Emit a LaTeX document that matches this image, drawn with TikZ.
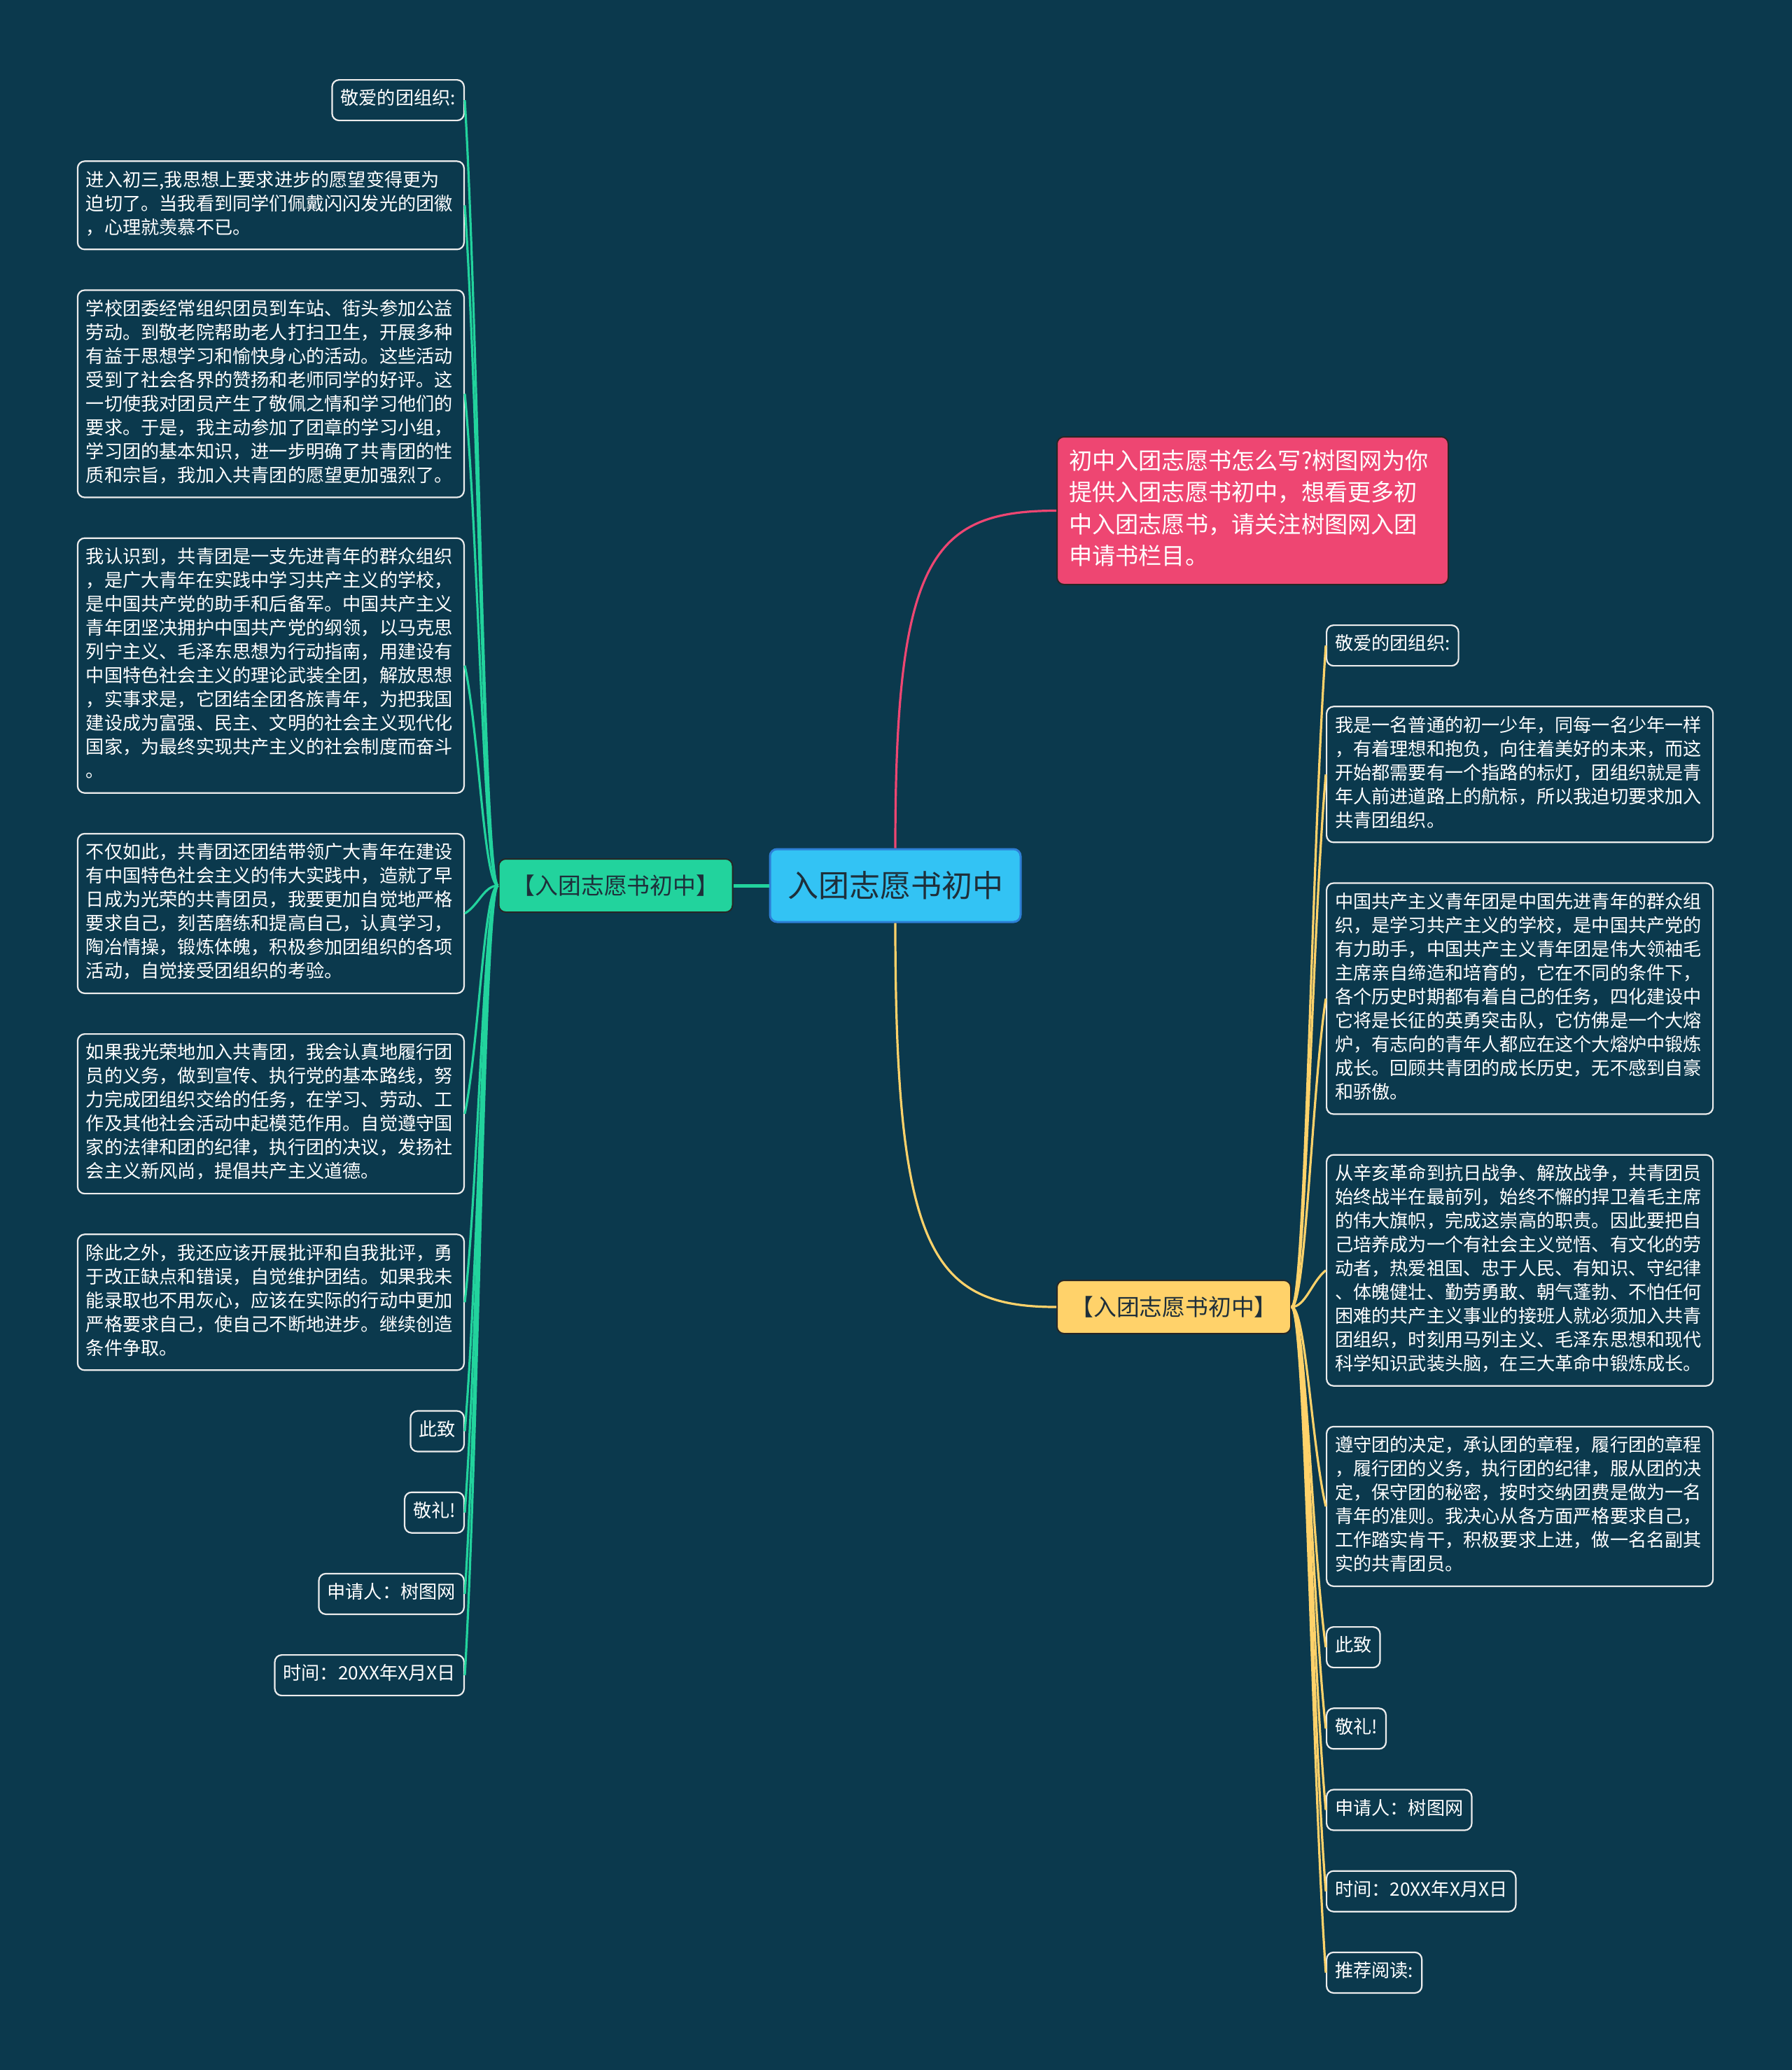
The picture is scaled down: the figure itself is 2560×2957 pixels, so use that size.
\documentclass[tikz,border=0pt]{standalone}
\usepackage{fontspec}
\setmainfont{Noto Sans CJK SC}
\usetikzlibrary{positioning,calc}
\definecolor{bgblue}{HTML}{0B394D}
\definecolor{rootfill}{HTML}{33C3F4}
\definecolor{rootline}{HTML}{2D7FD6}
\definecolor{gcol}{HTML}{22D39D}
\definecolor{ycol}{HTML}{FFD26A}
\definecolor{pkcol}{HTML}{EE4672}
\definecolor{darktext}{HTML}{1E2F3A}
\definecolor{leafline}{HTML}{ECECEC}
\tikzset{
  leaf/.style={draw=leafline,line width=1.1pt,rounded corners=5pt,text=white,
               font=\fontsize{13.1pt}{17pt}\selectfont,inner xsep=6pt,inner ysep=6pt,
               execute at begin node=\strut,execute at end node=\strut},
  leafbox/.style={leaf,text width=264pt,align=left},
  root/.style={draw=rootline,line width=1.5pt,fill=rootfill,rounded corners=5pt,
               text=darktext,font=\fontsize{22pt}{26pt}\selectfont,
               minimum width=179pt,minimum height=52pt},
  branch/.style={draw=black!85,line width=1pt,rounded corners=5pt,text=darktext,
               font=\fontsize{16.4pt}{20pt}\selectfont,
               minimum width=167pt,minimum height=38pt},
  note/.style={draw=black!85,line width=1pt,fill=pkcol,rounded corners=5pt,text=white,
               font=\fontsize{16.6pt}{22.6pt}\selectfont,text width=262.5pt,align=left,
               inner xsep=8.5pt,inner ysep=7.55pt,
               execute at begin node=\strut,execute at end node=\strut},
  gline/.style={gcol,line width=1.6pt},
  yline/.style={ycol,line width=1.6pt},
  twigL/.style={to path={let \p1=(\tikztostart),\p2=(\tikztotarget) in
               .. controls +(-10pt,0pt) and +(10pt,{0.3*(\y1-\y2)}) .. (\tikztotarget)}},
  twigR/.style={to path={let \p1=(\tikztostart),\p2=(\tikztotarget) in
               .. controls +(10pt,0pt) and +(-10pt,{0.3*(\y1-\y2)}) .. (\tikztotarget)}},
}

\begin{document}
\begin{tikzpicture}[x=0.5pt,y=-0.5pt]
  \fill[bgblue] (0,0) rectangle (2560,2957);

  \node[root] (c0) at (1279,1265) {入团志愿书初中};
  \node[branch,fill=gcol,left=25.5pt of c0] (bl) {【入团志愿书初中】};
  \node[branch,fill=ycol,anchor=west] (br) at (1509,1867) {【入团志愿书初中】};
  \node[note,anchor=north west] (pk) at (1509,623)
       {初中入团志愿书怎么写?树图网为你\\提供入团志愿书初中，想看更多初\\中入团志愿书，请关注树图网入团\\申请书栏目。};

  % left side
  \node[leaf,anchor=north east] (l1) at (664,113) {敬爱的团组织:};
  \node[leafbox,below=28pt of l1.south east,anchor=north east] (l2)
       {进入初三,我思想上要求进步的愿望变得更为\\迫切了。当我看到同学们佩戴闪闪发光的团徽\\，心理就羡慕不已。};
  \node[leafbox,below=28pt of l2.south east,anchor=north east] (l3)
       {学校团委经常组织团员到车站、街头参加公益\\劳动。到敬老院帮助老人打扫卫生，开展多种\\有益于思想学习和愉快身心的活动。这些活动\\受到了社会各界的赞扬和老师同学的好评。这\\一切使我对团员产生了敬佩之情和学习他们的\\要求。于是，我主动参加了团章的学习小组，\\学习团的基本知识，进一步明确了共青团的性\\质和宗旨，我加入共青团的愿望更加强烈了。};
  \node[leafbox,below=28pt of l3.south east,anchor=north east] (l4)
       {我认识到，共青团是一支先进青年的群众组织\\，是广大青年在实践中学习共产主义的学校，\\是中国共产党的助手和后备军。中国共产主义\\青年团坚决拥护中国共产党的纲领，以马克思\\列宁主义、毛泽东思想为行动指南，用建设有\\中国特色社会主义的理论武装全团，解放思想\\，实事求是，它团结全团各族青年，为把我国\\建设成为富强、民主、文明的社会主义现代化\\国家，为最终实现共产主义的社会制度而奋斗\\。};
  \node[leafbox,below=28pt of l4.south east,anchor=north east] (l5)
       {不仅如此，共青团还团结带领广大青年在建设\\有中国特色社会主义的伟大实践中，造就了早\\日成为光荣的共青团员，我要更加自觉地严格\\要求自己，刻苦磨练和提高自己，认真学习，\\陶冶情操，锻炼体魄，积极参加团组织的各项\\活动，自觉接受团组织的考验。};
  \node[leafbox,below=28pt of l5.south east,anchor=north east] (l6)
       {如果我光荣地加入共青团，我会认真地履行团\\员的义务，做到宣传、执行党的基本路线，努\\力完成团组织交给的任务，在学习、劳动、工\\作及其他社会活动中起模范作用。自觉遵守国\\家的法律和团的纪律，执行团的决议，发扬社\\会主义新风尚，提倡共产主义道德。};
  \node[leafbox,below=28pt of l6.south east,anchor=north east] (l7)
       {除此之外，我还应该开展批评和自我批评，勇\\于改正缺点和错误，自觉维护团结。如果我未\\能录取也不用灰心，应该在实际的行动中更加\\严格要求自己，使自己不断地进步。继续创造\\条件争取。};
  \node[leaf,below=28pt of l7.south east,anchor=north east] (l8) {此致};
  \node[leaf,below=28pt of l8.south east,anchor=north east] (l9) {敬礼!};
  \node[leaf,below=28pt of l9.south east,anchor=north east] (l10) {申请人：树图网};
  \node[leaf,below=28pt of l10.south east,anchor=north east] (l11) {时间：20XX年X月X日};

  % right side
  \node[leaf,anchor=north west] (r1) at (1894,892) {敬爱的团组织:};
  \node[leafbox,below=28pt of r1.south west,anchor=north west] (r2)
       {我是一名普通的初一少年，同每一名少年一样\\，有着理想和抱负，向往着美好的未来，而这\\开始都需要有一个指路的标灯，团组织就是青\\年人前进道路上的航标，所以我迫切要求加入\\共青团组织。};
  \node[leafbox,below=28pt of r2.south west,anchor=north west] (r3)
       {中国共产主义青年团是中国先进青年的群众组\\织，是学习共产主义的学校，是中国共产党的\\有力助手，中国共产主义青年团是伟大领袖毛\\主席亲自缔造和培育的，它在不同的条件下，\\各个历史时期都有着自己的任务，四化建设中\\它将是长征的英勇突击队，它仿佛是一个大熔\\炉，有志向的青年人都应在这个大熔炉中锻炼\\成长。回顾共青团的成长历史，无不感到自豪\\和骄傲。};
  \node[leafbox,below=28pt of r3.south west,anchor=north west] (r4)
       {从辛亥革命到抗日战争、解放战争，共青团员\\始终战半在最前列，始终不懈的捍卫着毛主席\\的伟大旗帜，完成这崇高的职责。因此要把自\\己培养成为一个有社会主义觉悟、有文化的劳\\动者，热爱祖国、忠于人民、有知识、守纪律\\、体魄健壮、勤劳勇敢、朝气蓬勃、不怕任何\\困难的共产主义事业的接班人就必须加入共青\\团组织，时刻用马列主义、毛泽东思想和现代\\科学知识武装头脑，在三大革命中锻炼成长。};
  \node[leafbox,below=28pt of r4.south west,anchor=north west] (r5)
       {遵守团的决定，承认团的章程，履行团的章程\\，履行团的义务，执行团的纪律，服从团的决\\定，保守团的秘密，按时交纳团费是做为一名\\青年的准则。我决心从各方面严格要求自己，\\工作踏实肯干，积极要求上进，做一名名副其\\实的共青团员。};
  \node[leaf,below=28pt of r5.south west,anchor=north west] (r6) {此致};
  \node[leaf,below=28pt of r6.south west,anchor=north west] (r7) {敬礼!};
  \node[leaf,below=28pt of r7.south west,anchor=north west] (r8) {申请人：树图网};
  \node[leaf,below=28pt of r8.south west,anchor=north west] (r9) {时间：20XX年X月X日};
  \node[leaf,below=28pt of r9.south west,anchor=north west] (r10) {推荐阅读:};

  % main connectors
  \draw[gcol,line width=2.5pt] (c0.west) -- (bl.east);
  \draw[pkcol,line width=1.6pt] (c0.north) .. controls +(0pt,206pt) and +(-89.5pt,0pt) .. (pk.west);
  \draw[yline] (c0.south) .. controls +(0pt,-233.75pt) and +(-89.5pt,0pt) .. (br.west);

  % branch connectors
  \draw[gline,twigL] (bl.west) to (l1.east);
  \draw[gline,twigL] (bl.west) to (l2.east);
  \draw[gline,twigL] (bl.west) to (l3.east);
  \draw[gline,twigL] (bl.west) to (l4.east);
  \draw[gline,twigL] (bl.west) to (l5.east);
  \draw[gline,twigL] (bl.west) to (l6.east);
  \draw[gline,twigL] (bl.west) to (l7.east);
  \draw[gline,twigL] (bl.west) to (l8.east);
  \draw[gline,twigL] (bl.west) to (l9.east);
  \draw[gline,twigL] (bl.west) to (l10.east);
  \draw[gline,twigL] (bl.west) to (l11.east);
  \draw[yline,twigR] (br.east) to (r1.west);
  \draw[yline,twigR] (br.east) to (r2.west);
  \draw[yline,twigR] (br.east) to (r3.west);
  \draw[yline,twigR] (br.east) to (r4.west);
  \draw[yline,twigR] (br.east) to (r5.west);
  \draw[yline,twigR] (br.east) to (r6.west);
  \draw[yline,twigR] (br.east) to (r7.west);
  \draw[yline,twigR] (br.east) to (r8.west);
  \draw[yline,twigR] (br.east) to (r9.west);
  \draw[yline,twigR] (br.east) to (r10.west);
\end{tikzpicture}
\end{document}
